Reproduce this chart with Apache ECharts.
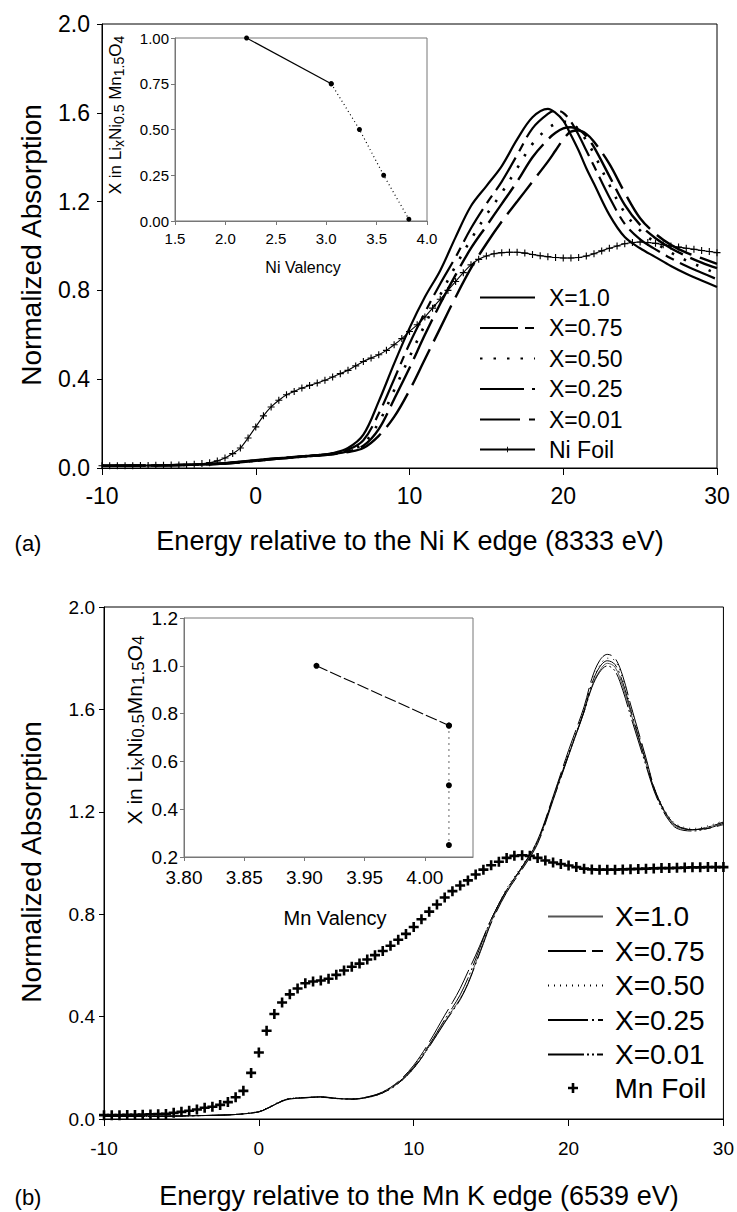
<!DOCTYPE html>
<html>
<head>
<meta charset="utf-8">
<script src="https://cdn.jsdelivr.net/npm/echarts@6/dist/echarts.min.js"></script>
<style>
  html, body { margin: 0; padding: 0; background: #fff; }
  #chart { width: 737px; height: 1212px; }
</style>
</head>
<body>
<div id="chart"></div>
<script>
// ---------- (a) Ni K-edge XANES ----------
const niEnergy = [-10, -8, -6, -4, -2, -1, 0, 1, 2, 3, 4, 5, 6, 7, 8, 9, 10, 11, 12, 13, 14, 15, 16, 17, 18, 19, 19.5, 20, 20.5, 21, 21.5, 22, 23, 24, 25, 26, 27, 28, 29, 30];
const niX100 = [0.010, 0.011, 0.012, 0.015, 0.022, 0.029, 0.036, 0.042, 0.047, 0.053, 0.058, 0.067, 0.090, 0.150, 0.300, 0.470, 0.630, 0.770, 0.890, 1.040, 1.180, 1.270, 1.360, 1.480, 1.580, 1.618, 1.600, 1.565, 1.500, 1.430, 1.350, 1.280, 1.140, 1.040, 0.990, 0.950, 0.910, 0.875, 0.845, 0.815];
const niX075 = [0.010, 0.011, 0.012, 0.015, 0.021, 0.028, 0.034, 0.041, 0.046, 0.052, 0.057, 0.065, 0.082, 0.125, 0.245, 0.400, 0.560, 0.700, 0.830, 0.950, 1.080, 1.190, 1.290, 1.410, 1.530, 1.595, 1.610, 1.600, 1.560, 1.500, 1.430, 1.360, 1.220, 1.100, 1.030, 0.985, 0.945, 0.910, 0.880, 0.850];
const niX050 = [0.010, 0.011, 0.012, 0.015, 0.021, 0.027, 0.033, 0.040, 0.046, 0.052, 0.057, 0.064, 0.078, 0.110, 0.205, 0.350, 0.500, 0.645, 0.780, 0.910, 1.030, 1.140, 1.240, 1.350, 1.460, 1.530, 1.550, 1.560, 1.555, 1.525, 1.475, 1.415, 1.275, 1.150, 1.070, 1.015, 0.970, 0.935, 0.905, 0.875];
const niX025 = [0.010, 0.011, 0.012, 0.015, 0.020, 0.026, 0.032, 0.039, 0.045, 0.051, 0.056, 0.063, 0.075, 0.100, 0.175, 0.310, 0.450, 0.600, 0.740, 0.870, 0.990, 1.090, 1.190, 1.290, 1.400, 1.480, 1.510, 1.530, 1.535, 1.525, 1.495, 1.445, 1.315, 1.185, 1.095, 1.035, 0.990, 0.955, 0.925, 0.900];
const niX001 = [0.010, 0.011, 0.012, 0.015, 0.020, 0.026, 0.032, 0.039, 0.045, 0.051, 0.056, 0.062, 0.072, 0.090, 0.145, 0.230, 0.350, 0.490, 0.630, 0.770, 0.900, 1.010, 1.110, 1.200, 1.290, 1.380, 1.430, 1.480, 1.515, 1.520, 1.505, 1.470, 1.370, 1.240, 1.125, 1.055, 1.005, 0.970, 0.945, 0.920];

// Ni foil reference, sampled every 0.5 eV from -10 to 30
const niFoilStart = -10, niFoilStep = 0.5;
const niFoil = [0.010, 0.010, 0.010, 0.010, 0.010, 0.011, 0.011, 0.012, 0.012, 0.013, 0.014, 0.015, 0.017, 0.020, 0.024, 0.032, 0.045, 0.065, 0.090, 0.135,
  0.185, 0.235, 0.275, 0.305, 0.330, 0.345, 0.360, 0.372, 0.383, 0.395, 0.410, 0.425, 0.440, 0.460, 0.480, 0.495, 0.510, 0.530, 0.555, 0.583,
  0.615, 0.645, 0.680, 0.720, 0.760, 0.800, 0.840, 0.880, 0.915, 0.940, 0.955, 0.965, 0.970, 0.972, 0.972, 0.968, 0.962, 0.956, 0.952, 0.948,
  0.946, 0.946, 0.948, 0.955, 0.965, 0.978, 0.990, 1.000, 1.010, 1.016, 1.018, 1.016, 1.012, 1.006, 1.000, 0.995, 0.990, 0.985, 0.980, 0.975, 0.970];

// inset (a): Li content vs Ni valency
const niValency = [2.21, 3.05, 3.33, 3.57, 3.82];
const niLiContent = [1.00, 0.75, 0.50, 0.25, 0.01];

// ---------- (b) Mn K-edge XANES ----------
const mnEnergy = [-10, -8, -6, -4, -2, -1, 0, 0.5, 1, 1.5, 2, 3, 4, 5, 6, 7, 8, 9, 10, 11, 12, 12.5, 13, 13.5, 14, 14.5, 15, 16, 17, 18, 19, 20, 21, 21.5, 22, 22.5, 23, 23.5, 24, 25, 25.5, 26, 26.5, 27, 28, 29, 30];
const mnX100 = [0.010, 0.010, 0.011, 0.013, 0.016, 0.020, 0.028, 0.040, 0.055, 0.070, 0.079, 0.083, 0.086, 0.080, 0.078, 0.085, 0.103, 0.140, 0.200, 0.285, 0.380, 0.425, 0.470, 0.530, 0.610, 0.690, 0.770, 0.890, 0.980, 1.080, 1.250, 1.420, 1.590, 1.690, 1.750, 1.780, 1.765, 1.690, 1.590, 1.390, 1.290, 1.220, 1.170, 1.140, 1.130, 1.140, 1.160];
const mnX075 = [0.010, 0.010, 0.011, 0.013, 0.016, 0.020, 0.028, 0.040, 0.054, 0.069, 0.078, 0.083, 0.085, 0.080, 0.078, 0.086, 0.106, 0.146, 0.210, 0.300, 0.405, 0.455, 0.510, 0.575, 0.640, 0.710, 0.780, 0.895, 0.985, 1.090, 1.260, 1.440, 1.610, 1.720, 1.790, 1.815, 1.800, 1.730, 1.620, 1.410, 1.300, 1.225, 1.175, 1.145, 1.130, 1.135, 1.150];
const mnX050 = [0.010, 0.010, 0.011, 0.013, 0.016, 0.021, 0.030, 0.043, 0.058, 0.072, 0.080, 0.084, 0.086, 0.081, 0.078, 0.084, 0.101, 0.138, 0.198, 0.283, 0.378, 0.424, 0.470, 0.530, 0.610, 0.690, 0.775, 0.900, 0.990, 1.085, 1.255, 1.430, 1.600, 1.705, 1.770, 1.800, 1.790, 1.720, 1.615, 1.405, 1.300, 1.230, 1.180, 1.150, 1.135, 1.145, 1.165];
const mnX025 = [0.010, 0.010, 0.011, 0.013, 0.016, 0.020, 0.028, 0.041, 0.056, 0.071, 0.080, 0.084, 0.087, 0.081, 0.077, 0.084, 0.102, 0.139, 0.198, 0.282, 0.376, 0.420, 0.466, 0.527, 0.605, 0.685, 0.765, 0.885, 0.975, 1.075, 1.245, 1.420, 1.595, 1.700, 1.765, 1.790, 1.775, 1.705, 1.600, 1.395, 1.295, 1.225, 1.175, 1.145, 1.130, 1.140, 1.160];
const mnX001 = [0.010, 0.010, 0.011, 0.013, 0.016, 0.020, 0.028, 0.040, 0.055, 0.070, 0.079, 0.083, 0.086, 0.080, 0.078, 0.086, 0.105, 0.143, 0.204, 0.290, 0.388, 0.435, 0.485, 0.550, 0.625, 0.705, 0.780, 0.895, 0.985, 1.085, 1.255, 1.425, 1.590, 1.685, 1.745, 1.770, 1.750, 1.675, 1.575, 1.380, 1.285, 1.215, 1.165, 1.135, 1.125, 1.135, 1.155];

// Mn foil reference, sampled every 0.5 eV from -10 to 30
const mnFoilStart = -10, mnFoilStep = 0.5;
const mnFoil = [0.015, 0.015, 0.015, 0.016, 0.016, 0.017, 0.018, 0.019, 0.020, 0.024, 0.028, 0.032, 0.037, 0.044, 0.048, 0.055, 0.066, 0.085, 0.110, 0.180,
  0.260, 0.345, 0.410, 0.455, 0.487, 0.510, 0.530, 0.537, 0.541, 0.548, 0.563, 0.580, 0.595, 0.607, 0.623, 0.640, 0.656, 0.677, 0.700, 0.723,
  0.750, 0.780, 0.810, 0.838, 0.865, 0.890, 0.912, 0.932, 0.955, 0.974, 0.991, 1.005, 1.020, 1.028, 1.030, 1.028, 1.020, 1.010, 1.002, 0.996,
  0.990, 0.984, 0.978, 0.975, 0.974, 0.974, 0.974, 0.975, 0.976, 0.977, 0.978, 0.979, 0.980, 0.980, 0.981, 0.982, 0.983, 0.983, 0.984, 0.984, 0.984];

// inset (b): Li content vs Mn valency
const mnValency = [3.91, 4.02, 4.02, 4.02];
const mnLiContent = [1.00, 0.75, 0.50, 0.25];

// ---------- helpers ----------
const FONT = '"Liberation Sans", Arial, Helvetica, sans-serif';
const pairs = (xs, ys) => xs.map((x, i) => [x, ys[i]]);
const stepPairs = (start, step, ys) => ys.map((y, i) => [start + i * step, y]);
const PLUS_THIN = 'path://M0,4.2H10V5.8H0Z M4.2,0H5.8V10H4.2Z';
const PLUS_BOLD = 'path://M0,3.7H10V6.3H0Z M3.7,0H6.3V10H3.7Z';

function mainX(grid) {
  return {
    gridIndex: grid, type: 'value', min: -10, max: 30, interval: 10,
    axisLine: { onZero: false, lineStyle: { color: '#000', width: 1 } },
    axisTick: { length: 7, lineStyle: { color: '#000' } },
    splitLine: { show: false }
  };
}
function mainY(grid) {
  return {
    gridIndex: grid, type: 'value', min: 0, max: 2, interval: 0.4,
    axisLine: { show: true, onZero: false, lineStyle: { color: '#000', width: 1 } },
    axisTick: { show: true, length: 5, lineStyle: { color: '#000' } },
    splitLine: { show: false }
  };
}
function curve(name, xi, yi, data, width, dash, color) {
  return {
    name, type: 'line', xAxisIndex: xi, yAxisIndex: yi, data,
    symbol: 'none', smooth: 0.35, silent: true,
    lineStyle: { color: color || '#000', width, type: dash || 'solid', cap: 'butt' },
    itemStyle: { color: color || '#000' }
  };
}
// legend entries for plain curves: line only, no marker
const lineOnly = names => names.map(name => ({ name, itemStyle: { opacity: 0 } }));
const legendBase = (fontSize, pad) => ({
  orient: 'vertical', padding: 0, itemWidth: 55, selectedMode: false,
  formatter: n => n.slice(2),
  textStyle: { fontSize, color: '#000', fontFamily: FONT, padding: [0, 0, 0, pad] }
});

const xa = mainX(0);
xa.axisLabel = { fontSize: 23, color: '#000', fontFamily: FONT, margin: 16 };
const ya = mainY(0);
ya.axisLabel = { fontSize: 23, color: '#000', fontFamily: FONT, margin: 12, formatter: v => v.toFixed(1) };

const xb = mainX(2);
xb.axisLabel = { fontSize: 19, color: '#000', fontFamily: FONT, margin: 20 };
const yb = mainY(2);
yb.axisLabel = { fontSize: 19, color: '#000', fontFamily: FONT, margin: 9, formatter: v => v.toFixed(1) };

const insetAxis = (extra) => Object.assign({
  type: 'value',
  axisLine: { show: true, onZero: false, lineStyle: { color: '#777', width: 1 } },
  axisTick: { show: true, length: 4, lineStyle: { color: '#777' } },
  splitLine: { show: false }
}, extra);

const option = {
  backgroundColor: '#fff',
  animation: false,
  grid: [
    { left: 102, top: 24, width: 615, height: 444, show: true, borderColor: '#000', borderWidth: 1, backgroundColor: 'transparent' },
    { left: 175, top: 38, width: 252, height: 183, show: true, borderColor: '#777', borderWidth: 1, backgroundColor: '#fff' },
    { left: 104, top: 607, width: 628, height: 512, show: true, borderColor: '#000', borderWidth: 1, backgroundColor: 'transparent' },
    { left: 184, top: 618, width: 289, height: 239, show: true, borderColor: '#777', borderWidth: 1, backgroundColor: '#fff' }
  ],
  xAxis: [
    xa,
    insetAxis({ gridIndex: 1, min: 1.5, max: 4, interval: 0.5,
      axisLabel: { fontSize: 15, color: '#000', fontFamily: FONT, margin: 10, formatter: v => v.toFixed(1) } }),
    xb,
    insetAxis({ gridIndex: 3, min: 3.8, max: 4.04, interval: 0.05,
      axisLabel: { fontSize: 19, color: '#000', fontFamily: FONT, margin: 11, showMaxLabel: false, formatter: v => v.toFixed(2) } })
  ],
  yAxis: [
    ya,
    insetAxis({ gridIndex: 1, min: 0, max: 1, interval: 0.25,
      axisLabel: { fontSize: 15, color: '#000', fontFamily: FONT, margin: 6, formatter: v => v.toFixed(2) } }),
    yb,
    insetAxis({ gridIndex: 3, min: 0.2, max: 1.2, interval: 0.2,
      axisLabel: { fontSize: 19, color: '#000', fontFamily: FONT, margin: 6, formatter: v => v.toFixed(1) } })
  ],
  legend: [
    Object.assign(legendBase(23, 9), {
      data: lineOnly(['a:X=1.0', 'a:X=0.75', 'a:X=0.50', 'a:X=0.25', 'a:X=0.01']),
      left: 479, top: 286, itemHeight: 14, itemGap: 7.5
    }),
    Object.assign(legendBase(23, 9), {
      data: ['a:Ni Foil'], left: 479, top: 438, itemHeight: 7
    }),
    Object.assign(legendBase(28, 7), {
      data: lineOnly(['b:X=1.0', 'b:X=0.75', 'b:X=0.50', 'b:X=0.25', 'b:X=0.01']),
      left: 547, top: 902.5, itemHeight: 14, itemGap: 6.5
    }),
    Object.assign(legendBase(28, 9), {
      data: ['b:Mn Foil'], left: 568, top: 1074, itemHeight: 10
    })
  ],
  series: [
    // (a) sample spectra
    curve('a:X=1.0', 0, 0, pairs(niEnergy, niX100), 2.2),
    curve('a:X=0.75', 0, 0, pairs(niEnergy, niX075), 2.2, [38, 7, 9, 7]),
    curve('a:X=0.50', 0, 0, pairs(niEnergy, niX050), 2.6, [2.5, 11]),
    curve('a:X=0.25', 0, 0, pairs(niEnergy, niX025), 2.4, [44, 8]),
    curve('a:X=0.01', 0, 0, pairs(niEnergy, niX001), 2.4, [40, 9]),
    {
      name: 'a:Ni Foil', type: 'line', xAxisIndex: 0, yAxisIndex: 0,
      data: stepPairs(niFoilStart, niFoilStep, niFoil),
      smooth: 0.3, symbol: PLUS_THIN, symbolSize: 7, showSymbol: true, silent: true,
      lineStyle: { color: '#000', width: 1.1 }, itemStyle: { color: '#000' }
    },
    // (a) inset
    { type: 'line', xAxisIndex: 1, yAxisIndex: 1, data: pairs(niValency.slice(0, 2), niLiContent.slice(0, 2)),
      symbol: 'circle', symbolSize: 5, silent: true, lineStyle: { color: '#000', width: 1.2 }, itemStyle: { color: '#000' } },
    { type: 'line', xAxisIndex: 1, yAxisIndex: 1, data: pairs(niValency.slice(1), niLiContent.slice(1)),
      symbol: 'circle', symbolSize: 5, silent: true, lineStyle: { color: '#000', width: 1.2, type: [1, 3] }, itemStyle: { color: '#000' } },

    // (b) sample spectra
    curve('b:X=1.0', 2, 2, pairs(mnEnergy, mnX100), 1, 'solid', '#555'),
    curve('b:X=0.75', 2, 2, pairs(mnEnergy, mnX075), 1, [38, 6]),
    curve('b:X=0.50', 2, 2, pairs(mnEnergy, mnX050), 1, [1, 5]),
    curve('b:X=0.25', 2, 2, pairs(mnEnergy, mnX025), 1, [40, 4, 2, 4]),
    curve('b:X=0.01', 2, 2, pairs(mnEnergy, mnX001), 1, [36, 3, 2, 3, 2, 3]),
    {
      name: 'b:Mn Foil', type: 'scatter', xAxisIndex: 2, yAxisIndex: 2,
      data: stepPairs(mnFoilStart, mnFoilStep, mnFoil),
      symbol: PLUS_BOLD, symbolSize: 10, silent: true, itemStyle: { color: '#000', opacity: 1 }
    },
    // (b) inset
    { type: 'line', xAxisIndex: 3, yAxisIndex: 3, data: pairs(mnValency.slice(0, 2), mnLiContent.slice(0, 2)),
      symbol: 'circle', symbolSize: 6, silent: true, lineStyle: { color: '#000', width: 1.1, type: [12, 3] }, itemStyle: { color: '#000' } },
    { type: 'line', xAxisIndex: 3, yAxisIndex: 3, data: pairs(mnValency.slice(1), mnLiContent.slice(1)),
      symbol: 'circle', symbolSize: 6, silent: true, lineStyle: { color: '#000', width: 1.2, type: [1, 5] }, itemStyle: { color: '#000' } }
  ],
  graphic: [
    // panel (a) titles
    { type: 'text', x: 31, y: 245, rotation: Math.PI / 2,
      style: { text: 'Normalized Absorption', fontSize: 28, fontFamily: FONT, fill: '#000', align: 'center', verticalAlign: 'middle' } },
    { type: 'text', x: 410, y: 541,
      style: { text: 'Energy relative to the Ni K edge (8333 eV)', fontSize: 27, fontFamily: FONT, fill: '#000', align: 'center', verticalAlign: 'middle' } },
    { type: 'text', x: 28, y: 543,
      style: { text: '(a)', fontSize: 22, fontFamily: FONT, fill: '#000', align: 'center', verticalAlign: 'middle' } },
    { type: 'text', x: 303, y: 267,
      style: { text: 'Ni Valency', fontSize: 16, fontFamily: FONT, fill: '#000', align: 'center', verticalAlign: 'middle' } },
    { type: 'text', x: 115, y: 115, rotation: Math.PI / 2,
      style: { text: 'X in Li{s|x}Ni{s|0.5} Mn{s|1.5}O{s|4}', fontSize: 17, lineHeight: 22, fontFamily: FONT, fill: '#000',
        align: 'center', verticalAlign: 'middle',
        rich: { s: { fontSize: 14, lineHeight: 13, verticalAlign: 'bottom', fontFamily: FONT, fill: '#000' } } } },

    // panel (b) titles
    { type: 'text', x: 31, y: 862, rotation: Math.PI / 2,
      style: { text: 'Normalized Absorption', fontSize: 28, fontFamily: FONT, fill: '#000', align: 'center', verticalAlign: 'middle' } },
    { type: 'text', x: 419, y: 1196,
      style: { text: 'Energy relative to the Mn K edge (6539 eV)', fontSize: 27, fontFamily: FONT, fill: '#000', align: 'center', verticalAlign: 'middle' } },
    { type: 'text', x: 28, y: 1197,
      style: { text: '(b)', fontSize: 22, fontFamily: FONT, fill: '#000', align: 'center', verticalAlign: 'middle' } },
    { type: 'text', x: 335, y: 918,
      style: { text: 'Mn Valency', fontSize: 20, fontFamily: FONT, fill: '#000', align: 'center', verticalAlign: 'middle' } },
    { type: 'text', x: 134, y: 730, rotation: Math.PI / 2,
      style: { text: 'X in Li{s|x}Ni{s|0.5}Mn{s|1.5}O{s|4}', fontSize: 21, lineHeight: 26, fontFamily: FONT, fill: '#000',
        align: 'center', verticalAlign: 'middle',
        rich: { s: { fontSize: 17, lineHeight: 16, verticalAlign: 'bottom', fontFamily: FONT, fill: '#000' } } } }
  ]
};

const chart = echarts.init(document.getElementById('chart'), null, { renderer: 'svg', width: 737, height: 1212 });
chart.setOption(option);
</script>
</body>
</html>
